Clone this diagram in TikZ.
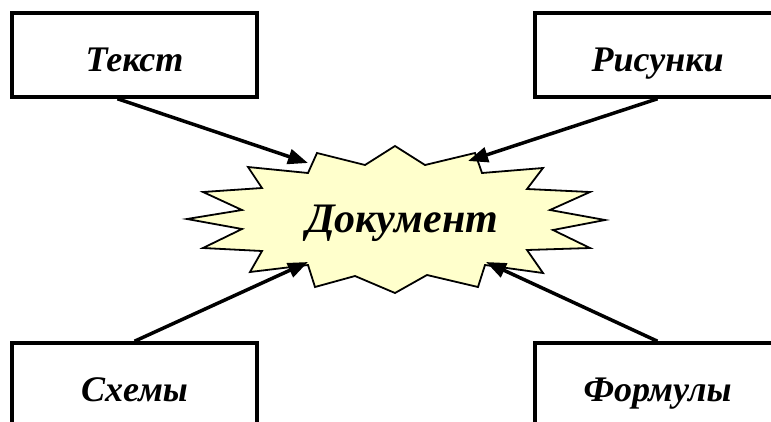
\documentclass[tikz,border=0pt]{standalone}
\usepackage{fontspec}
\setmainfont{Liberation Serif}
\usepackage{xcolor}
\usepackage{tikz}
\usetikzlibrary{arrows.meta,positioning,calc}
\definecolor{docfill}{RGB}{255,255,204}

\begin{document}
\begin{tikzpicture}[x=1pt,y=-1pt,
    partbox/.style={draw,line width=3.5pt,fill=white,minimum width=245pt,minimum height=84pt,
        text height=32pt,text depth=0pt,inner sep=0pt,font=\fontsize{36}{40}\selectfont\bfseries\itshape},
    feed/.style={line width=3.5pt,-{Triangle[length=20pt,width=15pt]}}]
    \clip (0,0) rectangle (771,421);

    % Central explosion
    \filldraw[fill=docfill,line width=1.8pt,line join=miter]
        (395,146) -- (425,165) -- (475,153) -- (482,173) -- (543,168) -- (527,189)
        -- (590,192) -- (550,210) -- (605,220) -- (553,230) -- (590,248) -- (527,250)
        -- (543,273) -- (485,265) -- (478,287) -- (427,275) -- (395,293) -- (355,276)
        -- (315,287) -- (308,265) -- (250,272) -- (262,251) -- (203,248) -- (242,229)
        -- (187,219) -- (242,210) -- (203,192) -- (262,188) -- (248,167) -- (308,173)
        -- (317,153) -- (365,165) -- cycle;
    \node[anchor=base,font=\fontsize{42}{46}\selectfont\bfseries\itshape] (doc) at (402,232) {Документ};

    % Arrow tips on the explosion
    \coordinate (docnw) at (308,163);
    \coordinate (docne) at (468,161);
    \coordinate (docsw) at (308,262);
    \coordinate (docse) at (486,262);

    % Parts
    \node[partbox] (tekst) at (134.5,55) {Текст};
    \node[partbox] (risunki) at (657.5,55) {Рисунки};
    \node[partbox] (skhemy) at (134.5,385) {Схемы};
    \node[partbox] (formuly) at (657.5,385) {Формулы};

    % Connectors
    \draw[feed] ([xshift=-17pt]tekst.south) -- (docnw);
    \draw[feed] (risunki.south) -- (docne);
    \draw[feed] (skhemy.north) -- (docsw);
    \draw[feed] (formuly.north) -- (docse);
\end{tikzpicture}
\end{document}
